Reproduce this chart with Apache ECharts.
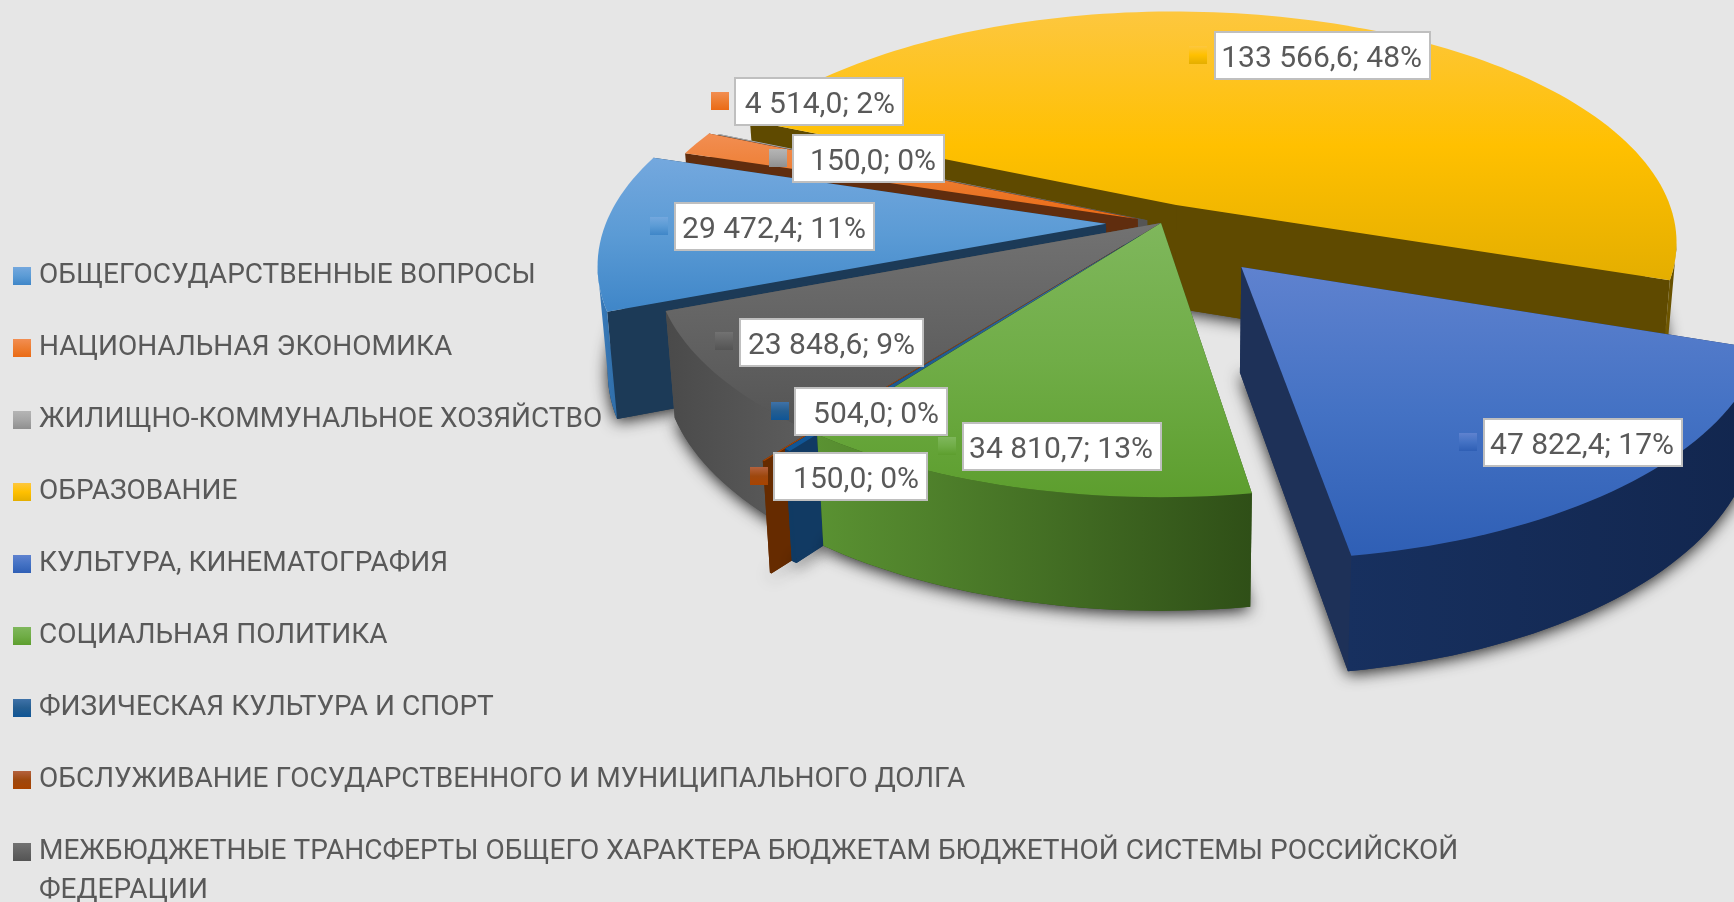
<!DOCTYPE html>
<html>
<head>
<meta charset="utf-8">
<style>
	html, body { margin: 0; padding: 0; background: #e6e6e6; }
	#chart { width: 1734px; height: 902px; }
</style>
<script src="https://cdn.jsdelivr.net/npm/echarts@6/dist/echarts.min.js"></script>
</head>
<body>
<div id="chart"></div>
<script>
	// data
	var categories = [
		'ОБЩЕГОСУДАРСТВЕННЫЕ ВОПРОСЫ',
		'НАЦИОНАЛЬНАЯ ЭКОНОМИКА',
		'ЖИЛИЩНО-КОММУНАЛЬНОЕ ХОЗЯЙСТВО',
		'ОБРАЗОВАНИЕ',
		'КУЛЬТУРА, КИНЕМАТОГРАФИЯ',
		'СОЦИАЛЬНАЯ ПОЛИТИКА',
		'ФИЗИЧЕСКАЯ КУЛЬТУРА И СПОРТ',
		'ОБСЛУЖИВАНИЕ ГОСУДАРСТВЕННОГО И МУНИЦИПАЛЬНОГО ДОЛГА',
		'МЕЖБЮДЖЕТНЫЕ ТРАНСФЕРТЫ ОБЩЕГО ХАРАКТЕРА БЮДЖЕТАМ БЮДЖЕТНОЙ СИСТЕМЫ РОССИЙСКОЙ ФЕДЕРАЦИИ'
	];
	var values = [29472.4, 4514.0, 150.0, 133566.6, 47822.4, 34810.7, 504.0, 150.0, 23848.6];
	var percents = [11, 2, 0, 48, 17, 13, 0, 0, 9];

	// styling per slice: top gradient, wall colour, rim gradient
	var topColors = [
		['#74a8de', '#5b9bd5', '#3f86c8'],
		['#f28e52', '#ed7d31', '#ea6a15'],
		['#b5b5b5', '#a5a5a5', '#8f8f8f'],
		['#fdc73f', '#ffc000', '#e4ae00'],
		['#5f82cf', '#4472c4', '#2f5fb5'],
		['#7fb75c', '#70ad47', '#5d9e2e'],
		['#3f72a8', '#255e91', '#0f5596'],
		['#b4623e', '#9e480e', '#a84300'],
		['#727272', '#636363', '#545454']
	];
	var wallColors = ['#1c3a57', '#602d0e', '#555555', '#5f4a00', '#1e3158', '#2f4f17', '#113a63', '#662b00', '#525252'];
	var rimColors = [
		['#3a7cbc', '#2f6da8'],
		['#7a3a12', '#5f2d0e'],
		['#666666', '#555555'],
		['#7a6000', '#5f4a00'],
		['#17305f', '#12264e'],
		['#5a9232', '#2f4f17'],
		['#113a63', '#0f3a63'],
		['#662b00', '#662b00'],
		['#4a4a4a', '#5e5e5e']
	];
	var paintOrder = [3, 2, 1, 0, 8, 7, 6, 5, 4]; // back to front
	var explode = [0.11, 0.05, 0.03, 0.085, 0.242, 0, 0.068, 0.118, 0];

	// data label boxes, placed by hand in the original: [boxX, boxY, boxW, boxH, markerX, markerY]
	var labelBoxes = [
		[675, 203, 199, 47, 650, 217],
		[735, 78, 168, 47, 711, 92],
		[793, 135, 151, 47, 769, 149],
		[1215, 32, 215, 47, 1189, 46],
		[1484, 419, 198, 47, 1459, 433],
		[963, 423, 198, 47, 938, 437],
		[795, 388, 152, 47, 771, 402],
		[774, 453, 153, 47, 750, 467],
		[740, 319, 183, 47, 715, 332]
	];

	// pie plane → screen
	var OX = 1161, OY = 223, S = 500, Q = 0.46, P = 0.161, H = 104, G = 0.018;
	var startDeg = 248.9;
	var STEP_DEG = 1.5;

	var FONT = 'Roboto';
	var total = 0;
	values.forEach(function(v) { total += v; });

	function project(u, v, z) {
		var w = 1 + P * v;
		return [
			OX + S * u / w * (1 - G * z),
			OY - Q * S * v / w + H * z / Math.sqrt(w)
		];
	}

	function vGrad(c) {
		return new echarts.graphic.LinearGradient(0, 0, 0, 1, [
			{ offset: 0, color: c[0] }, { offset: 0.5, color: c[1] }, { offset: 1, color: c[2] }
		]);
	}

	function hGrad(c) {
		return new echarts.graphic.LinearGradient(0, 0, 1, 0, [
			{ offset: 0, color: c[0] }, { offset: 1, color: c[1] }
		]);
	}

	function sliceAngles(i) {
		var a = startDeg;
		for (var k = 0; k < i; k++) {
			a += values[k] / total * 360;
		}
		return [a, a + values[i] / total * 360];
	}

	function sliceShapes(i) {
		var ang = sliceAngles(i);
		var mid = (ang[0] + ang[1]) / 2 * Math.PI / 180;
		var cu = explode[i] * Math.sin(mid);
		var cv = explode[i] * Math.cos(mid);
		var rim = [];
		var front = [];
		var n = Math.max(2, Math.ceil((ang[1] - ang[0]) / STEP_DEG));
		for (var k = 0; k <= n; k++) {
			var t = (ang[0] + (ang[1] - ang[0]) * k / n) * Math.PI / 180;
			var p = [cu + Math.sin(t), cv + Math.cos(t)];
			rim.push(p);
			// only the part of the outer wall that faces the viewer
			if (Math.cos(t) < -P) {
				front.push(p);
			}
		}
		return { cu: cu, cv: cv, rim: rim, front: front };
	}

	function poly(points, style) {
		return { type: 'polygon', shape: { points: points }, style: style, silent: true };
	}

	function renderSlice(i) {
		var s = sliceShapes(i);
		var topRim = s.rim.map(function(p) { return project(p[0], p[1], 0); });
		var botRim = s.rim.map(function(p) { return project(p[0], p[1], 1); });
		var apexTop = project(s.cu, s.cv, 0);
		var apexBot = project(s.cu, s.cv, 1);
		var last = s.rim.length - 1;
		var children = [];

		// bottom face carries the soft shadow
		children.push(poly([apexBot].concat(botRim), {
			fill: wallColors[i],
			shadowBlur: 16,
			shadowColor: 'rgba(0,0,0,0.85)',
			shadowOffsetY: 3
		}));
		children.push(poly([apexTop, topRim[0], botRim[0], apexBot], { fill: wallColors[i] }));
		children.push(poly([apexTop, topRim[last], botRim[last], apexBot], { fill: wallColors[i] }));
		if (s.front.length > 1) {
			var frontTop = s.front.map(function(p) { return project(p[0], p[1], 0); });
			var frontBot = s.front.map(function(p) { return project(p[0], p[1], 1); });
			children.push(poly(frontTop.concat(frontBot.reverse()), { fill: hGrad(rimColors[i]) }));
		}
		children.push(poly([apexTop].concat(topRim), { fill: vGrad(topColors[i]) }));
		return { type: 'group', children: children };
	}

	function formatValue(v) {
		var parts = v.toFixed(1).split('.');
		return parts[0].replace(/\B(?=(\d{3})+$)/g, ' ') + ',' + parts[1];
	}

	function renderLabel(params, api) {
		var i = params.dataIndex;
		var b = labelBoxes[i];
		return {
			type: 'group',
			children: [
				{
					type: 'rect',
					shape: { x: b[4], y: b[5], width: 18, height: 18 },
					style: { fill: vGrad(topColors[i]) }
				},
				{
					type: 'rect',
					shape: { x: b[0], y: b[1], width: b[2], height: b[3] },
					style: { fill: '#ffffff', stroke: '#bfbfbf', lineWidth: 2 }
				},
				{
					type: 'text',
					x: b[0] + b[2] - 8,
					y: b[1] + b[3] / 2 + 4,
					style: {
						text: formatValue(api.value(0)) + '; ' + percents[i] + '%',
						fill: '#595959',
						font: '30px ' + FONT,
						align: 'right',
						verticalAlign: 'middle'
					}
				}
			]
		};
	}

	var series = categories.map(function(name, i) {
		return {
			type: 'custom',
			name: name,
			coordinateSystem: 'none',
			z: 2 + paintOrder.indexOf(i),
			silent: true,
			animation: false,
			itemStyle: { color: vGrad(topColors[i]) },
			data: [[values[i]]],
			renderItem: function() { return renderSlice(i); }
		};
	});

	series.push({
		type: 'custom',
		name: 'labels',
		coordinateSystem: 'none',
		z: 30,
		silent: true,
		animation: false,
		data: values.map(function(v) { return [v]; }),
		renderItem: renderLabel
	});

	var legendTail = ' ФЕДЕРАЦИИ';

	var myChart = echarts.init(document.getElementById('chart'));
	myChart.setOption({
		animation: false,
		backgroundColor: '#e6e6e6',
		legend: {
			data: categories,
			orient: 'vertical',
			left: 8,
			top: 255,
			itemWidth: 18,
			itemHeight: 18,
			itemGap: 40,
			selectedMode: false,
			icon: 'rect',
			formatter: function(name) { return name.replace(legendTail, ''); },
			textStyle: {
				color: '#595959',
				fontFamily: FONT,
				fontSize: 28,
				lineHeight: 32,
				padding: [0, 0, 0, 3]
			}
		},
		graphic: [{
			type: 'text',
			left: 39,
			top: 877,
			style: { text: legendTail.trim(), fill: '#595959', font: '28px ' + FONT }
		}],
		series: series
	});
</script>
</body>
</html>
